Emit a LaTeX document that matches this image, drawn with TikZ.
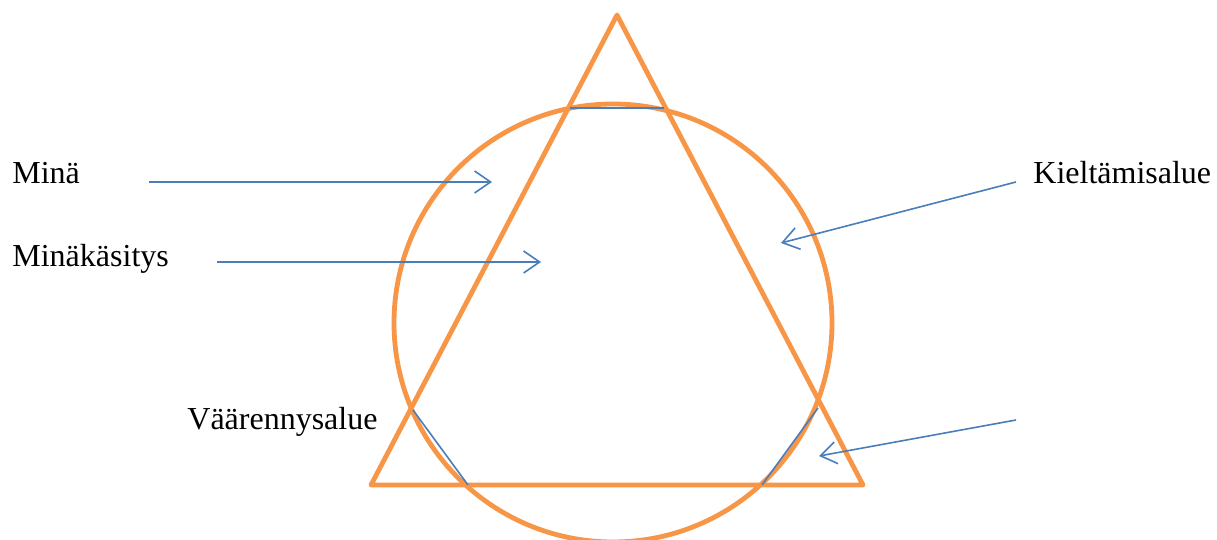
\documentclass[tikz,border=0pt]{standalone}
\usepackage{fontspec}
\setmainfont{Liberation Serif}
\usetikzlibrary{arrows.meta}
\definecolor{shapeorange}{HTML}{F79646}
\definecolor{lineblue}{HTML}{4A7EBB}
\tikzset{
  outline/.style={draw=shapeorange,line width=2.4pt,line join=round},
  chord/.style={draw=lineblue,line width=0.8pt},
  pointer/.style={chord,-{Straight Barb[length=8pt,width=11pt]}},
  areatext/.style={font=\fontsize{16}{19}\selectfont,inner sep=0pt,anchor=base west}
}
\begin{document}
\begin{tikzpicture}[x=0.5pt,y=0.5pt]
  \useasboundingbox (0,0) rectangle (1217,540);
  % triangle and circle
  \coordinate (apex) at (617,525);
  \coordinate (bl) at (371,55);
  \coordinate (br) at (863,55);
  \coordinate (ctr) at (613,217);
  \draw[outline] (ctr) circle[radius=219];
  \draw[outline] (apex) -- (bl) -- (br) -- cycle;
  % cut lines
  \coordinate (topl) at (570,432);
  \coordinate (topr) at (664,432);
  \coordinate (lowl) at (413,130);
  \coordinate (lowlb) at (468,55);
  \coordinate (lowr) at (818,132);
  \coordinate (lowrb) at (762,55);
  \draw[chord] (topl) -- (topr);
  \draw[chord] (lowl) -- (lowlb);
  \draw[chord] (lowr) -- (lowrb);
  % texts
  \node[areatext] (mina) at (12,356) {Minä};
  \node[areatext] (minakas) at (12,273) {Minäkäsitys};
  \node[areatext] (kielto) at (1033,356) {Kieltämisalue};
  \node[areatext] (vaaren) at (187,110) {Väärennysalue};
  % pointers
  \coordinate (minafrom) at (149,358);
  \coordinate (minato) at (492,358);
  \coordinate (kasfrom) at (217,278);
  \coordinate (kasto) at (541,278);
  \coordinate (kielfrom) at (1016,358);
  \coordinate (kielat) at (781,297);
  \coordinate (lowfrom) at (1016,120);
  \coordinate (lowto) at (819,84);
  \draw[pointer] (minafrom) -- (minato);
  \draw[pointer] (kasfrom) -- (kasto);
  \draw[pointer] (kielfrom) -- (kielat);
  \draw[pointer] (lowfrom) -- (lowto);
\end{tikzpicture}
\end{document}
